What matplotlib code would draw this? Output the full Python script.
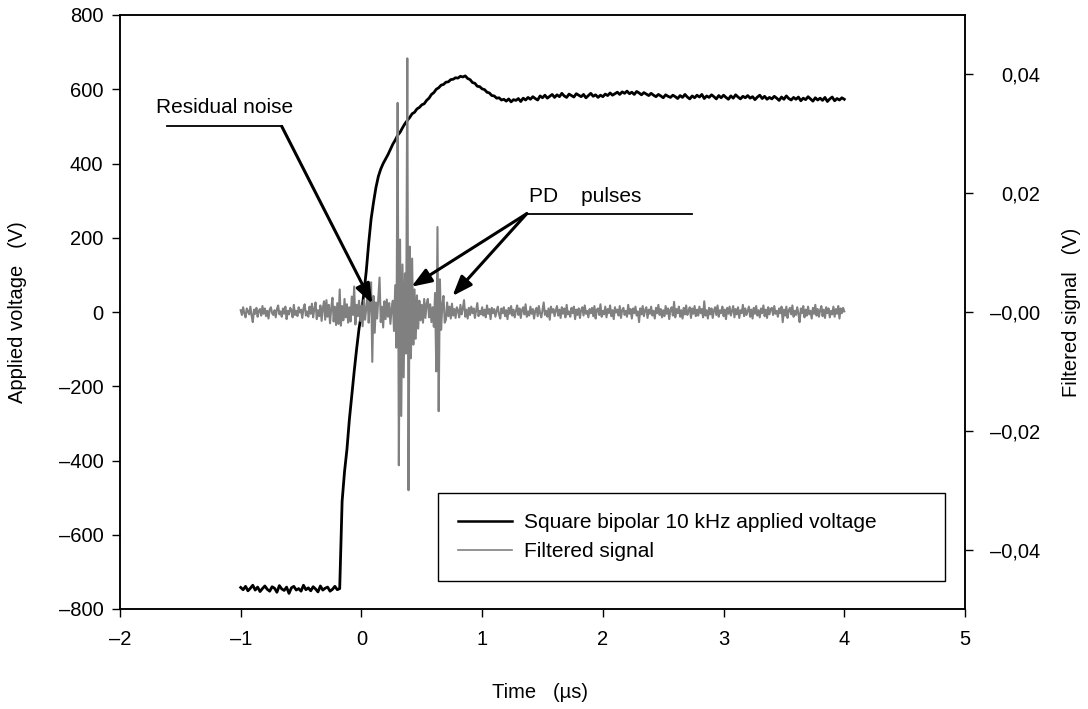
import numpy as np
import matplotlib
matplotlib.use('Agg')
import matplotlib.pyplot as plt
from matplotlib.lines import Line2D

plt.rcParams['font.family'] = ['Liberation Sans', 'DejaVu Sans']

# Applied voltage (V), sampled every 0.02 us from -1 to 4 us
volt_t = np.linspace(-1.0, 4.0, 251)
volt = [
    -742, -748, -739, -751, -744, -736, -749, -741, -753, -745,
    -738, -747, -752, -740, -744, -755, -737, -746, -750, -741,
    -758, -743, -739, -749, -745, -752, -736, -748, -743, -751,
    -740, -746, -754, -738, -749, -744, -741, -752, -747, -739,
    -748, -745, -510, -430, -370, -290, -225, -160, -100, -45,
    -5, 50, 110, 185, 250, 295, 335, 365, 385, 400,
    412, 424, 438, 452, 463, 476, 484, 496, 507, 516,
    524, 534, 538, 547, 551, 558, 561, 570, 576, 586,
    591, 600, 604, 611, 613, 619, 620, 626, 627, 631,
    630, 635, 633, 636, 629, 626, 618, 616, 608, 607,
    601, 599, 592, 590, 583, 582, 576, 577, 571, 573,
    568, 574, 566, 572, 570, 575, 567, 576, 571, 578,
    573, 580, 575, 571, 582, 577, 584, 576, 581, 586,
    578, 585, 580, 589, 582, 578, 587, 583, 579, 588,
    584, 580, 586, 577, 583, 589, 581, 585, 578, 584,
    580, 587, 583, 590, 584, 588, 592, 586, 593, 589,
    595, 588, 592, 586, 594, 590, 585, 591, 587, 583,
    589, 584, 580, 586, 582, 577, 585, 581, 578, 584,
    580, 575, 583, 578, 586, 579, 574, 582, 577, 584,
    579, 586, 575, 582, 578, 585, 580, 574, 583, 577,
    584, 578, 573, 582, 576, 585, 579, 574, 581, 577,
    583, 576, 580, 572, 579, 584, 575, 581, 573, 578,
    574, 581, 576, 570, 579, 573, 582, 575, 571, 578,
    573, 579, 569, 576, 572, 580, 574, 568, 577, 571,
    576, 570, 578, 567, 574, 579, 569, 575, 571, 577,
    573,
]

# Filtered signal (mV), sampled every 0.01 us from -1 to 4 us
filt_t = np.linspace(-1.0, 4.0, 501)
filt_mv = [
    0.3, -0.5, 0.8, -0.2, -0.9, 0.6, 0.1, -0.4, 0.9, -0.6,
    -1.7, 0.4, -0.3, 0.7, -0.8, 0.2, 0.5, -0.6, 1.0, -0.3,
    0.6, -0.7, 0.2, -1.1, 0.4, 0.8, -0.2, -0.5, 0.3, -0.9,
    0.5, 1.1, -0.4, 0.1, -0.8, 0.6, -0.3, 0.9, -1.2, 0.2,
    -0.4, 0.7, 0.3, -0.9, 1.2, -0.5, 0.2, -0.7, 0.8, -0.1,
    0.4, -1.0, 0.6, 1.3, -0.6, 0.1, -0.8, 0.9, -0.3, 1.4,
    -0.9, 0.5, 1.6, -1.2, 0.3, -0.7, 1.1, -1.5, 0.6, 1.8,
    -1.3, 2.0, -0.8, 1.2, -1.9, 0.7, 2.4, -1.6, 0.9, -2.2,
    1.5, -2.0, 3.8, -2.3, 1.0, -1.4, 2.2, -0.9, 1.3, -1.8,
    0.8, -1.6, 2.6, -0.5, 4.3, -2.1, 1.2, -0.7, 1.9, -1.5,
    1.1, -2.4, 2.0, -1.3, 0.6, 3.1, -1.8, 1.4, 5.0, -8.4,
    2.7, -3.5, 1.6, -1.1, 2.3, 5.8, -1.7, 0.9, -2.6, 1.8,
    -1.2, 2.1, -0.8, 1.5, -2.0, 0.6, 1.9, -3.2, 4.5, -6.0,
    35.2, -25.8, 12.2, -17.5, 8.0, -11.0, 6.5, -7.0, 42.7, -30.0,
    11.0, -7.8, 9.0, -5.5, 3.8, -4.5, 2.8, -2.8, 1.9, -1.4,
    1.2, -1.8, 2.2, -1.0, 1.4, 2.2, -0.9, 1.3, -1.7, 0.8,
    -2.5, 3.2, -10.0, 14.3, -16.7, 5.5, -3.0, 1.2, 2.7, -1.8,
    -1.3, 1.6, -0.7, 0.9, -1.1, 1.4, -0.6, 0.5, -1.0, 0.8,
    0.3, -0.9, 1.2, -0.4, 0.6, 2.0, -0.8, 0.4, -1.1, 0.7,
    -0.5, 0.9, -0.2, 0.6, -1.0, 0.3, 1.5, -0.7, 0.2, -0.4,
    0.8, -0.6, 0.4, -0.9, 1.1, -0.3, 0.5, -1.2, 0.7, -0.2,
    0.5, -0.8, 0.2, 0.9, -0.4, -1.1, 0.6, -0.2, 0.8, -0.7,
    0.3, -1.2, 0.7, -0.3, 1.0, -0.6, 0.4, -0.9, 0.2, 1.1,
    -0.5, 0.6, -1.0, 0.3, 0.8, -0.4, 1.3, -0.8, 0.1, -0.6,
    0.9, -0.3, 0.5, -1.1, 0.2, 0.7, -0.7, 1.0, -0.2, -0.9,
    0.4, 1.6, -0.5, 0.2, -0.8, 0.6, -1.3, 0.9, -0.1, 0.5,
    -0.7, 0.3, 1.0, -0.6, 0.4, -1.0, 0.8, -0.3, 0.6, -0.9,
    1.2, -0.4, 0.1, -0.8, 0.7, -0.2, 0.9, -1.2, 0.4, -0.5,
    0.6, -1.0, 0.3, 0.8, -0.6, 1.1, -0.3, 0.2, -0.9, 0.5,
    -0.2, 0.7, -0.7, 1.0, -1.1, 0.4, 0.6, -0.5, 1.3, -0.8,
    0.2, -0.4, 0.9, -0.9, 0.5, -0.2, 1.1, -0.7, 0.3, -1.2,
    0.8, -0.1, 0.4, -0.6, 1.0, -1.0, 0.3, 0.7, -0.5, 0.2,
    -0.8, 1.2, -0.3, 0.5, -1.1, 0.6, -0.2, 0.9, -0.6, 0.1,
    -1.7, 0.6, -0.4, 1.0, -0.7, 0.3, 0.8, -1.0, 0.4, -0.3,
    0.9, -0.6, 0.2, -1.1, 0.7, -0.2, 1.2, -0.5, 0.5, -0.9,
    0.3, -0.7, 1.0, -0.3, 0.6, -1.2, 0.4, 0.8, -0.6, 1.7,
    -0.9, 0.5, -0.2, 0.9, -0.8, 0.3, -1.1, 0.7, -0.4, 1.1,
    -0.5, 0.2, 0.8, -1.0, 0.6, -0.3, 1.0, -0.7, 0.4, -0.6,
    0.9, -0.2, 0.5, -0.9, 1.8, -0.6, 0.3, -1.1, 0.7, -0.4,
    0.6, -1.0, 0.2, 0.8, -0.5, 1.1, -0.8, 0.3, -0.2, 0.9,
    -0.7, 0.4, -1.2, 0.7, -0.3, 0.9, -0.6, 0.2, 1.0, -0.9,
    0.5, -0.4, 0.8, -1.0, 0.3, -0.2, 1.2, -0.7, 0.6, -0.5,
    0.2, 0.9, -0.8, 0.4, -1.1, 0.7, -0.3, 1.0, -0.6, 0.3,
    -0.9, 0.6, -0.2, 1.1, -0.7, 0.4, -1.0, 0.8, -0.4, 0.5,
    0.7, -0.5, 1.0, -0.3, 0.2, -0.8, 0.6, -0.2, 0.9, -1.7,
    0.4, -0.6, 0.9, -1.0, 0.3, 0.7, -0.4, 1.1, -0.8, 0.2,
    -0.5, 0.8, -0.3, -1.7, 0.6, -0.2, 1.0, -0.9, 0.4, -0.6,
    0.9, -0.4, 0.2, -1.1, 0.7, -0.3, 1.2, -0.6, 0.5, -0.8,
    0.3, 1.0, -0.7, 0.4, -1.0, 0.8, -0.2, 0.6, -0.9, 0.2,
    -0.4, 0.9, -0.8, 0.5, -0.3, 1.0, -1.1, 0.6, -0.2, 0.7,
    0.1,
]
filt_v = np.array(filt_mv) / 1000.0

x_ticks = [-2, -1, 0, 1, 2, 3, 4, 5]
x_labels = ['\u20132', '\u20131', '0', '1', '2', '3', '4', '5']
left_ticks = [-800, -600, -400, -200, 0, 200, 400, 600, 800]
left_labels = ['\u2013800', '\u2013600', '\u2013400', '\u2013200', '0',
               '200', '400', '600', '800']
right_ticks = [-0.04, -0.02, 0.0, 0.02, 0.04]
right_labels = ['\u20130,04', '\u20130,02', '\u20130,00', '0,02', '0,04']

FS = 14.5     # ticks and axis titles
FS_TXT = 15   # annotations and legend

fig = plt.figure(figsize=(10.88, 7.09), dpi=100)
ax = fig.add_axes([120 / 1088, 1 - 609 / 709, 845 / 1088, 594 / 709])
ax2 = ax.twinx()

ax.plot(volt_t, volt, color='black', linewidth=2.0)
ax2.plot(filt_t, filt_v, color='#808080', linewidth=1.5)

ax.set_xlim(-2, 5)
ax.set_ylim(-800, 800)
ax2.set_ylim(-0.05, 0.05)

ax.set_xticks(x_ticks)
ax.set_xticklabels(x_labels)
ax.set_yticks(left_ticks)
ax.set_yticklabels(left_labels)
ax2.set_yticks(right_ticks)
ax2.set_yticklabels(right_labels)

for a in (ax, ax2):
    a.tick_params(direction='out', length=6, width=1, labelsize=FS,
                  colors='black', pad=6)
    for s in a.spines.values():
        s.set_linewidth(1.1)
ax.tick_params(axis='x', pad=9)

# right-axis labels are right aligned, ending near x = 1038 px
ax2.tick_params(axis='y', pad=48)
for lbl in ax2.get_yticklabels():
    lbl.set_horizontalalignment('right')

ax.set_xlabel('Time   (\u00b5s)', fontsize=FS)
ax.xaxis.set_label_coords(0.497, -0.125)
ax.set_ylabel('Applied voltage   (V)', fontsize=FS)
ax.yaxis.set_label_coords(-0.110, 0.5)
ax2.set_ylabel('Filtered signal   (V)', fontsize=FS)
ax2.yaxis.set_label_coords(1.115, 0.5)

arrow = dict(arrowstyle='-|>,head_length=0.8,head_width=0.3', color='black',
             lw=2.2, mutation_scale=15, shrinkA=0, shrinkB=0)

# Residual noise annotation
ax2.text(-1.70, 552, 'Residual noise', transform=ax.transData,
         fontsize=FS_TXT, va='center', ha='left')
ax2.plot([-1.61, -0.66], [500, 500], color='black', lw=1.3,
         transform=ax.transData)
ax2.annotate('', xy=(0.09, 22), xytext=(-0.66, 500),
             xycoords=ax.transData, textcoords=ax.transData, arrowprops=arrow)

# PD pulses annotation
ax2.text(1.39, 311, 'PD    pulses', transform=ax.transData,
         fontsize=FS_TXT, va='center', ha='left')
ax2.plot([1.37, 2.74], [265, 265], color='black', lw=1.3,
         transform=ax.transData)
ax2.annotate('', xy=(0.414, 68), xytext=(1.37, 265),
             xycoords=ax.transData, textcoords=ax.transData, arrowprops=arrow)
ax2.annotate('', xy=(0.754, 43), xytext=(1.37, 265),
             xycoords=ax.transData, textcoords=ax.transData, arrowprops=arrow)

handles = [Line2D([], [], color='black', lw=1.8),
           Line2D([], [], color='#808080', lw=1.2)]
leg = ax2.legend(handles, ['Square bipolar 10 kHz applied voltage', 'Filtered signal'],
                 loc='upper left',
                 bbox_to_anchor=(438 / 1088, 1 - 580 / 709, 507 / 1088, 87 / 709),
                 bbox_transform=fig.transFigure, mode='expand',
                 fontsize=FS_TXT, frameon=True, fancybox=False, shadow=False,
                 borderpad=0.95, labelspacing=0.5, handlelength=2.6,
                 handletextpad=0.6, borderaxespad=0)
leg.get_frame().set_edgecolor('black')
leg.get_frame().set_linewidth(1.0)
leg.get_frame().set_alpha(1)

fig.savefig('out.png', dpi=100)
